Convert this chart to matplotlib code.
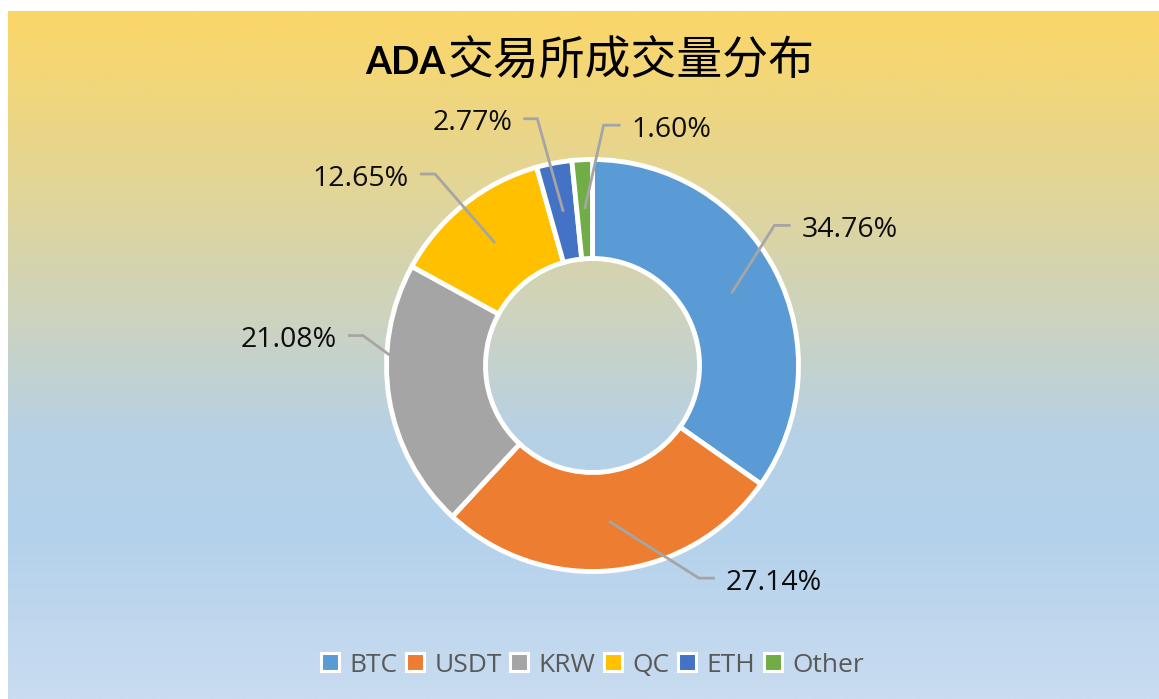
import numpy as np
import matplotlib
matplotlib.use('Agg')
import matplotlib.pyplot as plt
from matplotlib.colors import LinearSegmentedColormap
from matplotlib.lines import Line2D

# ---- data ----
categories = ['BTC', 'USDT', 'KRW', 'QC', 'ETH', 'Other']
shares = [34.76, 27.14, 21.08, 12.65, 2.77, 1.60]
colors = ['#5B9BD5', '#ED7D31', '#A5A5A5', '#FFC000', '#4472C4', '#70AD47']
title_latin = 'ADA'
title_cjk = '交易所成交量分布'

W, H = 1159, 699
fig = plt.figure(figsize=(W / 100, H / 100), dpi=100)
fig.patch.set_facecolor('white')

# ---- gradient background ----
bg = fig.add_axes([8 / W, 0, 1 - 8 / W, (H - 11) / H])
bg.set_axis_off()
stops = [(0.0, '#FBD668'), (0.13, '#EFD67F'), (0.275, '#E0D59B'), (0.46, '#CBD3C2'),
         (0.62, '#B6D1E6'), (0.75, '#B3D1EB'), (1.0, '#C9DCF0')]
cmap = LinearSegmentedColormap.from_list('bg', stops)
grad = np.linspace(0, 1, 600).reshape(-1, 1)
bg.imshow(grad, aspect='auto', cmap=cmap, extent=(0, 1, 0, 1), origin='upper')

# ---- donut ----
ax = fig.add_axes([0, 0, 1, 1])
ax.set_axis_off()
ax.patch.set_visible(False)
cx, cy = 592.5, H - 365.5
R = 206
ring = 99
ax.pie(shares, colors=colors, startangle=90, counterclock=False, radius=R,
       center=(cx, cy), wedgeprops=dict(width=ring, edgecolor='white', linewidth=3.5))
ax.set_xlim(0, W)
ax.set_ylim(0, H)
ax.set_aspect('equal')

# ---- leader lines + labels ----
leader_corner = [(43, 68), (90, -57), (-75, 55), (-60, 69), (-26, 93), (19, 84)]
leader_tail = [16, 16, -15, -15, -14, 17]
r_mid = R - ring / 2
sh = np.array(shares)
theta = np.deg2rad(90 - 360 * (np.cumsum(sh) - sh / 2) / sh.sum())
for i, v in enumerate(shares):
    sx = cx + r_mid * np.cos(theta[i])
    sy = cy + r_mid * np.sin(theta[i])
    kx, ky = sx + leader_corner[i][0], sy + leader_corner[i][1]
    ex = kx + leader_tail[i]
    ax.plot([sx, kx, ex], [sy, ky, ky], color='#A5A5A5', lw=2.0,
            solid_capstyle='butt', solid_joinstyle='miter', zorder=5)
    right = leader_tail[i] > 0
    tx = ex + (11 if right else -11)
    ax.text(tx, ky - 11.5, f'{v:.2f}%', ha='left' if right else 'right', va='baseline',
            fontsize=20.5, family='Open Sans', color='#0D0D0D', zorder=6)

# ---- title ----
fig.text(446 / W, 1 - 74 / H, title_latin, ha='right', va='baseline', fontsize=27,
         fontweight='bold', family='Lato', color='black')
fig.text(448 / W, 1 - 75 / H, title_cjk, ha='left', va='baseline', fontsize=33,
         family=['Noto Sans CJK SC', 'DejaVu Sans'], color='black')

# ---- legend ----
handles = [Line2D([], [], linestyle='none', marker='s', markersize=12.5, markerfacecolor=c,
                  markeredgecolor='white', markeredgewidth=2.2) for c in colors]
fig.legend(handles, categories, loc='center', bbox_to_anchor=(592 / W, 34 / H), ncol=6,
           frameon=False, prop={'family': 'Open Sans', 'size': 19}, labelcolor='#595959',
           handlelength=0.75, handletextpad=0.35, columnspacing=0.3, borderpad=0)

fig.savefig('out.png', dpi=100, facecolor='white')
